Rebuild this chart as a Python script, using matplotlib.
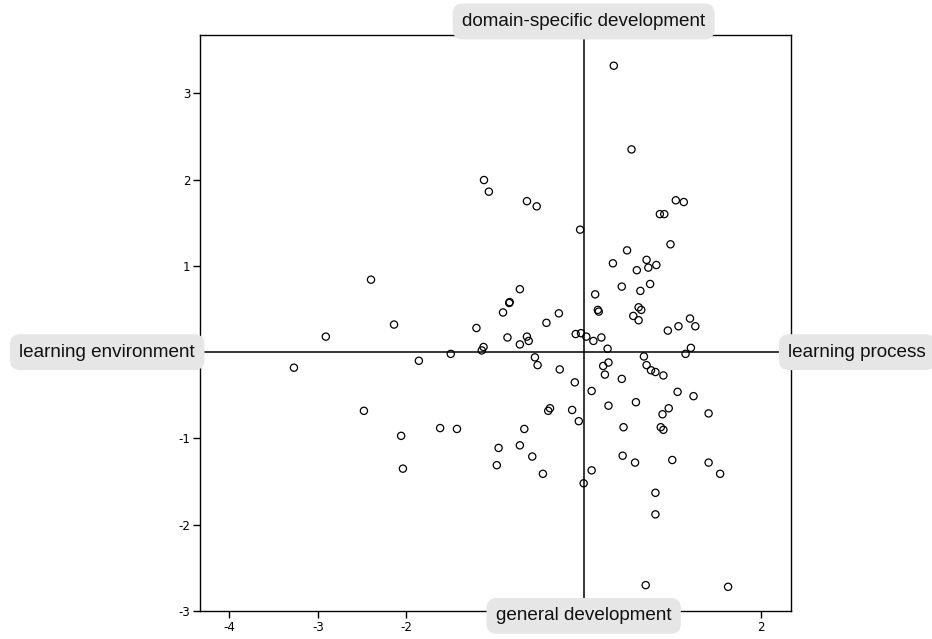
import matplotlib
matplotlib.use("Agg")
import matplotlib.pyplot as plt

plt.rcParams['axes.unicode_minus'] = False

x_vals = [-1.125, -1.07, -0.64, -0.53, -0.04, -2.40, -0.72, -0.84, -0.835, -0.91,
          -0.28, -0.42, -2.14, -1.21, -2.91, -0.86, -0.64, -0.62, -0.72, -0.09,
          -0.03, 0.03, -1.13, -1.15, -1.50, -1.86, -0.55, -3.27, -0.52, -0.27,
          -0.10, 0.09, -2.48, -0.40, -0.38, -0.13, -0.055, -2.06, -1.62, -1.43,
          -0.67, -0.96, -0.72, -0.58, -0.98, -2.04, -0.46, 0.0, 0.09,
          0.27, 1.21, 1.15, 0.68, 0.22, 0.28, 0.24, 0.71, 0.76, 0.81,
          0.90, 0.43, 1.06, 1.24, 0.28, 0.59, 0.96, 0.89, 1.41, 0.45,
          0.87, 0.90, 0.44, 0.58, 1.00, 1.41, 1.54, 0.81, 0.81, 0.70,
          1.63, 0.34, 0.54, 1.04, 1.13, 0.86, 0.91, 0.98, 0.49, 0.33,
          0.71, 0.73, 0.82, 0.60, 0.43, 0.75, 0.64, 0.13, 0.16, 0.17,
          0.62, 0.65, 0.56, 0.62, 1.20, 1.07, 1.26, 0.95, 0.11, 0.20]
y_vals = [1.995, 1.86, 1.75, 1.69, 1.42, 0.84, 0.73, 0.57, 0.58, 0.46,
          0.45, 0.34, 0.32, 0.28, 0.18, 0.17, 0.18, 0.13, 0.09, 0.21,
          0.22, 0.18, 0.06, 0.02, -0.02, -0.10, -0.06, -0.18, -0.15, -0.20,
          -0.35, -0.45, -0.68, -0.68, -0.65, -0.67, -0.80, -0.97, -0.88, -0.89,
          -0.89, -1.11, -1.08, -1.21, -1.31, -1.35, -1.41, -1.52, -1.37,
          0.04, 0.05, -0.02, -0.05, -0.16, -0.12, -0.26, -0.15, -0.21, -0.23,
          -0.27, -0.31, -0.46, -0.51, -0.62, -0.58, -0.65, -0.72, -0.71, -0.87,
          -0.87, -0.90, -1.20, -1.28, -1.25, -1.28, -1.41, -1.63, -1.88, -2.70,
          -2.72, 3.32, 2.35, 1.76, 1.74, 1.60, 1.60, 1.25, 1.18, 1.03,
          1.07, 0.98, 1.01, 0.95, 0.76, 0.79, 0.71, 0.67, 0.49, 0.47,
          0.52, 0.49, 0.42, 0.37, 0.39, 0.30, 0.30, 0.25, 0.13, 0.17]

x_ticks = [-4, -3, -2, -1, 0, 1, 2]
x_ticklabels = ["-4", "-3", "-2", "", "", "", "2"]   # -1, 0, 1 hidden behind the label box
y_ticks = [-3, -2, -1, 0, 1, 2, 3]
y_ticklabels = ["-3", "-2", "-1", "", "1", "2", "3"]  # 0 hidden behind the label box
label_top = "domain-specific development"
label_bottom = "general development"
label_left = "learning environment"
label_right = "learning process"

fig = plt.figure(figsize=(9.32, 6.39), dpi=100)
ax = fig.add_axes([200/932, 1-611/639, 591/932, 576/639])

ax.scatter(x_vals, y_vals, s=27, facecolors='none', edgecolors='black',
           linewidths=0.9, zorder=3)
ax.axhline(0, color='black', lw=1.1, zorder=2)
ax.axvline(0, color='black', lw=1.1, zorder=2)

ax.set_xlim(-4.33, 2.34)
ax.set_ylim(-3.0, 3.676)
ax.set_xticks(x_ticks)
ax.set_yticks(y_ticks)
ax.set_xticklabels(x_ticklabels)
ax.set_yticklabels(y_ticklabels)
ax.tick_params(direction='out', length=5, width=1, labelsize=8.5, pad=2,
               colors='black')
for s in ax.spines.values():
    s.set_linewidth(1)
    s.set_color('black')

bbox = dict(boxstyle='round,pad=0.5,rounding_size=0.55', facecolor='#e6e6e6',
            edgecolor='none')
font = dict(family=['Liberation Sans', 'DejaVu Sans'], fontsize=13.6, color='#111111')
ax.text(0, 1.0235, label_top, transform=ax.get_xaxis_transform(), ha='center',
        va='center', bbox=bbox, clip_on=False, zorder=10, **font)
ax.text(0, -0.0085, label_bottom, transform=ax.get_xaxis_transform(), ha='center',
        va='center', bbox=bbox, clip_on=False, zorder=10, **font)
ax.text(-0.157, 0, label_left, transform=ax.get_yaxis_transform(), ha='center',
        va='center', bbox=bbox, clip_on=False, zorder=10, **font)
ax.text(1.112, 0, label_right, transform=ax.get_yaxis_transform(), ha='center',
        va='center', bbox=bbox, clip_on=False, zorder=10, **font)

fig.savefig("out.png", dpi=100)
